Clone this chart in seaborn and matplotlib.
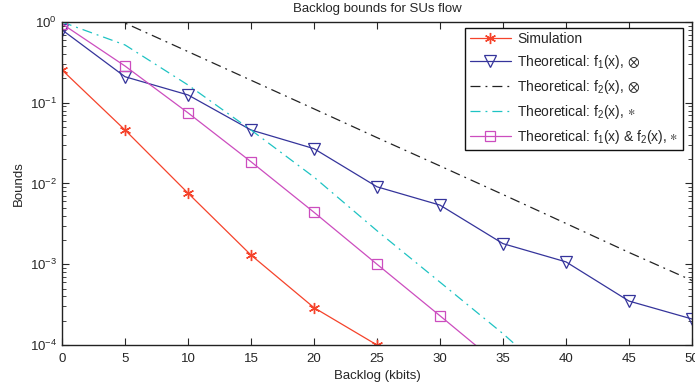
import numpy as np
import pandas as pd
import seaborn as sns
import matplotlib
matplotlib.use("Agg")
import matplotlib.pyplot as plt

# ---- data ----
x_sim = [0, 5, 10, 15, 20, 25]
y_sim = [0.255, 0.046, 0.0076, 0.0013, 2.9e-4, 1.0e-4]

x_f1 = [0, 5, 10, 15, 20, 25, 30, 35, 40, 45, 50]
y_f1 = [0.80, 0.21, 0.125, 0.046, 0.027, 0.0091, 0.0054, 0.0018, 0.00107, 3.5e-4, 2.1e-4]

x_f2o = [0, 5, 10, 15, 20, 25, 30, 35, 40, 45, 50]
y_f2o = [2.2, 0.97, 0.43, 0.19, 0.084, 0.037, 0.0165, 0.0073, 0.0032, 0.0014, 6.3e-4]

x_f2s = [0, 5, 10, 15, 20, 25, 30, 35, 40]
y_f2s = [1.0, 0.52, 0.166, 0.046, 0.012, 0.0026, 6.0e-4, 1.38e-4, 2.8e-5]

x_f12 = [0, 5, 10, 15, 20, 25, 30, 35]
y_f12 = [0.95, 0.285, 0.075, 0.0186, 0.0044, 0.0010, 2.3e-4, 5.2e-5]

labels = ["Simulation",
          "Theoretical: f$_1$(x), $\\otimes$",
          "Theoretical: f$_2$(x), $\\otimes$",
          "Theoretical: f$_2$(x), $\\ast$",
          "Theoretical: f$_1$(x) & f$_2$(x), $\\ast$"]
x_ticks = [0, 5, 10, 15, 20, 25, 30, 35, 40, 45, 50]

sns.set_style("ticks")
plt.rcParams['font.family'] = ['Liberation Sans', 'DejaVu Sans']
plt.rcParams['mathtext.fontset'] = 'custom'
plt.rcParams['mathtext.rm'] = 'Liberation Sans'
plt.rcParams['mathtext.it'] = 'Liberation Sans'
plt.rcParams['mathtext.sf'] = 'Liberation Sans'
plt.rcParams['mathtext.fallback'] = 'stixsans'
plt.rcParams['mathtext.default'] = 'regular'

fig = plt.figure(figsize=(6.95, 3.9), dpi=100)
ax = fig.add_axes([62/695, 1-345/390, 630/695, 323/390])

c_red = '#F5432B'
c_blue = '#35349B'
c_blk = '#222222'
c_cyan = '#1EC3C3'
c_mag = '#CC4DBF'

sns.lineplot(x=x_sim, y=y_sim, ax=ax, color=c_red, marker=(6, 2, 0), markersize=8,
             markeredgecolor=c_red, markeredgewidth=1.0, linewidth=0.9,
             label=labels[0], estimator=None, sort=False)
sns.lineplot(x=x_f1, y=y_f1, ax=ax, color=c_blue, marker='v', markersize=8,
             markerfacecolor='none', markeredgecolor=c_blue, markeredgewidth=0.9,
             linewidth=0.9, label=labels[1], estimator=None, sort=False)
sns.lineplot(x=x_f2o, y=y_f2o, ax=ax, color=c_blk, linestyle=(0, (8, 4, 1.5, 4)),
             linewidth=0.9, label=labels[2], estimator=None, sort=False)
sns.lineplot(x=x_f2s, y=y_f2s, ax=ax, color=c_cyan, linestyle=(0, (8, 4, 1.5, 4)),
             linewidth=0.9, label=labels[3], estimator=None, sort=False)
sns.lineplot(x=x_f12, y=y_f12, ax=ax, color=c_mag, marker='s', markersize=7,
             markerfacecolor='none', markeredgecolor=c_mag, markeredgewidth=0.9,
             linewidth=0.9, label=labels[4], estimator=None, sort=False)

ax.set_yscale('log')
ax.set_xlim(0, 50)
ax.set_ylim(1e-4, 1)
ax.set_xticks(x_ticks)
ax.set_xticklabels([str(t) for t in x_ticks])
ax.tick_params(which='both', direction='in', top=True, right=True, labelsize=9.5)
ax.tick_params(axis='x', pad=6)
ax.tick_params(which='major', length=5, width=0.8)
ax.tick_params(which='minor', length=3, width=0.6)
for s in ax.spines.values():
    s.set_linewidth(1.0)
    s.set_color('#222222')

ax.set_xlabel("Backlog (kbits)", fontsize=9.5, labelpad=3)
ax.set_ylabel("Bounds", fontsize=9.5, labelpad=4)
ax.set_title("Backlog bounds for SUs flow", fontsize=9.5, pad=7)

leg = ax.legend(loc='upper right', fontsize=10, frameon=True, fancybox=False,
                edgecolor='#111111', framealpha=1, borderpad=0.3, labelspacing=0.5,
                handlelength=3.0, handletextpad=0.45, borderaxespad=0,
                bbox_to_anchor=(621/630, 1-6/323))
leg.get_frame().set_linewidth(1.0)

fig.savefig("out.png", dpi=100)
